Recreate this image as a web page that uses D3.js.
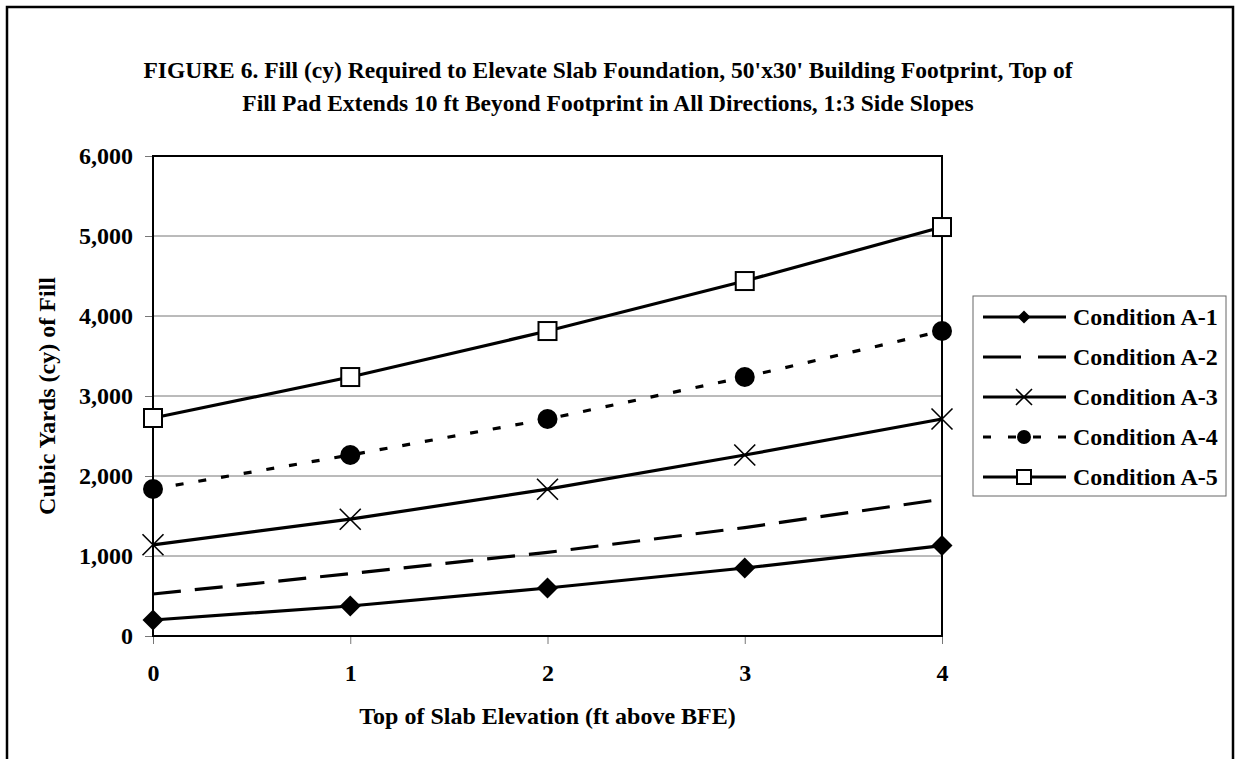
<!DOCTYPE html>
<html>
<head>
<meta charset="utf-8">
<script src="https://cdn.jsdelivr.net/npm/d3@7"></script>
<style>
  body { margin: 0; background: #fff; }
  svg text { font-family: "Liberation Serif", "Times New Roman", serif; font-weight: bold; fill: #000; }
</style>
</head>
<body>
<div id="chart"></div>
<script>
(function () {
  'use strict';

  // chart values
  var slabElevation = [0, 1, 2, 3, 4];
  var conditionA1 = [200, 375, 600, 850, 1130];
  var conditionA2 = [525, 780, 1045, 1355, 1710];
  var conditionA3 = [1140, 1460, 1835, 2262, 2712];
  var conditionA4 = [1837, 2262, 2712, 3237, 3812];
  var conditionA5 = [2725, 3237, 3812, 4437, 5112];
  var seriesNames = ['Condition A-1', 'Condition A-2', 'Condition A-3', 'Condition A-4', 'Condition A-5'];
  var yTicks = [0, 1000, 2000, 3000, 4000, 5000, 6000];
  var titleLines = [
    "FIGURE 6. Fill (cy) Required to Elevate Slab Foundation, 50'x30' Building Footprint, Top of",
    "Fill Pad Extends 10 ft Beyond Footprint in All Directions, 1:3 Side Slopes"
  ];

  var allSeries = [conditionA1, conditionA2, conditionA3, conditionA4, conditionA5];
  var styles = [
    { dash: null, legendDash: null, marker: 'diamond' },
    { dash: '28,14', legendDash: '38,17', marker: null },
    { dash: null, legendDash: null, marker: 'x' },
    { dash: '8,15', legendDash: '8,17', marker: 'circle' },
    { dash: null, legendDash: null, marker: 'square' }
  ];

  var width = 1235, height = 759;
  var plot = { left: 153, right: 942, top: 156, bottom: 636 };
  var fontSize = '24px';

  var svg = d3.select('#chart').append('svg')
    .attr('width', width)
    .attr('height', height);

  // outer chart frame (bottom edge falls off the page)
  svg.append('rect')
    .attr('x', 7).attr('y', 7)
    .attr('width', 1226).attr('height', 820)
    .attr('fill', '#fff')
    .attr('stroke', '#000')
    .attr('stroke-width', 2.5);

  svg.selectAll('.title')
    .data(titleLines)
    .enter().append('text')
    .attr('class', 'title')
    .attr('x', 608)
    .attr('y', function(d, i) { return 78 + i * 33; })
    .attr('text-anchor', 'middle')
    .style('font-size', '23.5px')
    .text(function(d) { return d; });

  var x = d3.scaleLinear().domain([0, 4]).range([plot.left, plot.right]);
  var y = d3.scaleLinear().domain([0, 6000]).range([plot.bottom, plot.top]);

  // gridlines
  svg.append('g')
    .selectAll('line')
    .data(yTicks.slice(1, -1))
    .enter().append('line')
    .attr('x1', plot.left).attr('x2', plot.right)
    .attr('y1', function(d) { return y(d); })
    .attr('y2', function(d) { return y(d); })
    .attr('stroke', '#777')
    .attr('stroke-width', 1);

  var yAxis = svg.append('g')
    .attr('transform', 'translate(' + plot.left + ',0)')
    .call(d3.axisLeft(y).tickValues(yTicks).tickFormat(d3.format(',')).tickSize(8).tickPadding(12));
  var xAxis = svg.append('g')
    .attr('transform', 'translate(0,' + plot.bottom + ')')
    .call(d3.axisBottom(x).tickValues(slabElevation).tickFormat(d3.format('d')).tickSize(8).tickPadding(20));

  [yAxis, xAxis].forEach(function(ax) {
    ax.select('.domain').remove();
    ax.selectAll('.tick line').attr('stroke', '#777').attr('stroke-width', 1);
    ax.selectAll('.tick text')
      .style('font-size', fontSize)
      .style('font-family', '"Liberation Serif", "Times New Roman", serif')
      .style('font-weight', 'bold')
      .attr('fill', '#000');
  });
  yAxis.selectAll('.tick text').attr('dy', '0.32em');

  // plot area border
  svg.append('rect')
    .attr('x', plot.left).attr('y', plot.top)
    .attr('width', plot.right - plot.left)
    .attr('height', plot.bottom - plot.top)
    .attr('fill', 'none')
    .attr('stroke', '#000')
    .attr('stroke-width', 2);

  svg.append('text')
    .attr('x', (plot.left + plot.right) / 2)
    .attr('y', 724)
    .attr('text-anchor', 'middle')
    .style('font-size', fontSize)
    .text('Top of Slab Elevation (ft above BFE)');

  svg.append('text')
    .attr('transform', 'translate(55,' + ((plot.top + plot.bottom) / 2) + ') rotate(-90)')
    .attr('text-anchor', 'middle')
    .style('font-size', fontSize)
    .text('Cubic Yards (cy) of Fill');

  function drawMarker(g, type, cx, cy, s) {
    if (type === 'diamond') {
      g.append('path')
        .attr('d', 'M' + cx + ',' + (cy - s) + 'L' + (cx + s) + ',' + cy + 'L' + cx + ',' + (cy + s) + 'L' + (cx - s) + ',' + cy + 'Z')
        .attr('fill', '#000');
    } else if (type === 'circle') {
      g.append('circle').attr('cx', cx).attr('cy', cy).attr('r', s).attr('fill', '#000');
    } else if (type === 'square') {
      g.append('rect')
        .attr('x', cx - s).attr('y', cy - s)
        .attr('width', 2 * s).attr('height', 2 * s)
        .attr('fill', '#fff').attr('stroke', '#000').attr('stroke-width', 2);
    } else if (type === 'x') {
      g.append('path')
        .attr('d', 'M' + (cx - s) + ',' + (cy - s) + 'L' + (cx + s) + ',' + (cy + s) + 'M' + (cx - s) + ',' + (cy + s) + 'L' + (cx + s) + ',' + (cy - s))
        .attr('stroke', '#000').attr('stroke-width', 1.6).attr('fill', 'none');
    }
  }

  var line = d3.line()
    .x(function(d, i) { return x(slabElevation[i]); })
    .y(function(d) { return y(d); });

  var markerSize = { diamond: 10.5, circle: 10, square: 9, x: 10.5 };

  allSeries.forEach(function(values, k) {
    var st = styles[k];
    var g = svg.append('g');
    g.append('path')
      .datum(values)
      .attr('d', line)
      .attr('fill', 'none')
      .attr('stroke', '#000')
      .attr('stroke-width', 3.2)
      .attr('stroke-dasharray', st.dash);
    if (st.marker) {
      values.forEach(function(v, i) {
        drawMarker(g, st.marker, x(slabElevation[i]), y(v), markerSize[st.marker]);
      });
    }
  });

  // legend
  var legend = svg.append('g');
  legend.append('rect')
    .attr('x', 973).attr('y', 296)
    .attr('width', 253).attr('height', 200)
    .attr('fill', '#fff')
    .attr('stroke', '#666')
    .attr('stroke-width', 1);

  var legendSize = { diamond: 6.5, circle: 7, square: 7, x: 8 };
  seriesNames.forEach(function(name, k) {
    var ly = 317 + k * 40;
    var st = styles[k];
    legend.append('line')
      .attr('x1', 983).attr('x2', 1066)
      .attr('y1', ly).attr('y2', ly)
      .attr('stroke', '#000')
      .attr('stroke-width', 3.2)
      .attr('stroke-dasharray', st.legendDash);
    if (st.marker) drawMarker(legend, st.marker, 1024, ly, legendSize[st.marker]);
    legend.append('text')
      .attr('x', 1073)
      .attr('y', ly + 8)
      .style('font-size', fontSize)
      .text(name);
  });
}());
</script>
</body>
</html>
